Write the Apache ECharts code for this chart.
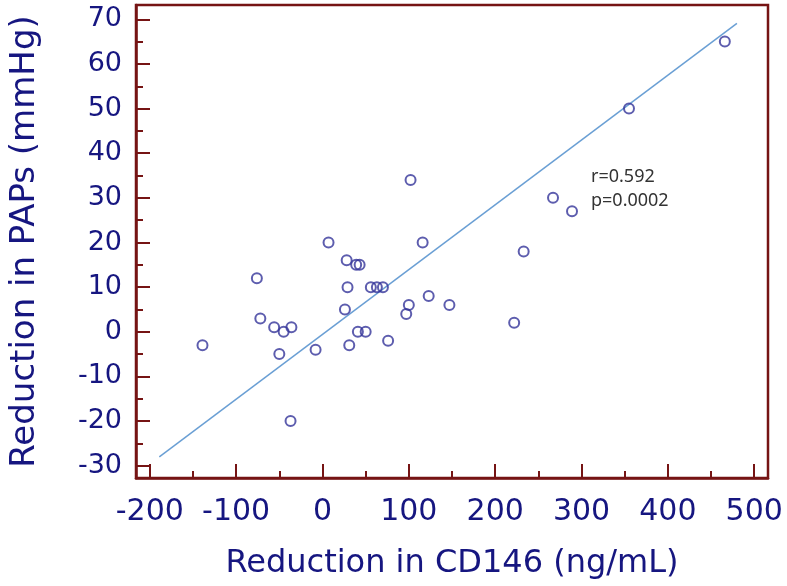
<!DOCTYPE html>
<html>
<head>
<meta charset="utf-8">
<script src="https://cdn.jsdelivr.net/npm/echarts@6/dist/echarts.min.js"></script>
<style>html,body{margin:0;padding:0;background:#fff}#c{width:787px;height:586px}</style>
</head>
<body>
<div id="c"></div>
<script>
// Data
var cd146Reduction = [7, -76, -72, -56, -45, -36, -139, -50, -8, -37, 102, 116, 28, 39, 43, 29, 56, 63, 70, 26, 100, 97, 123, 147, 41, 50, 31, 76, 267, 289, 233, 222, 355, 466];
var papsReduction  = [20, 12, 3, 1, 0, 1, -3, -5, -4, -20, 34, 20, 16, 15, 15, 10, 10, 10, 10, 5, 6, 4, 8, 6, 0, 0, -3, -2, 30, 27, 18, 2, 50, 65];
var fitLineX = [-189, 480];
var fitLineY = [-28.0, 69.1];
var xTicks = [-200, -100, 0, 100, 200, 300, 400, 500];
var xMinorTicks = [-150, -50, 50, 150, 250, 350, 450];
var yTicks = [-30, -20, -10, 0, 10, 20, 30, 40, 50, 60, 70];
var yMinorTicks = [-25, -15, -5, 5, 15, 25, 35, 45, 55, 65];
var statLines = ['r=0.592', 'p=0.0002'];

var frameColor = '#761414';
var labelColor = '#161680';
var font = 'DejaVu Sans';

var scatterData = cd146Reduction.map(function (x, i) { return [x, papsReduction[i]]; });
var lineData = fitLineX.map(function (x, i) { return [x, fitLineY[i]]; });

function majorAxis(min, max, ticks, extra) {
  var a = {
    type: 'value', min: min, max: max, gridIndex: 0,
    axisLine: { show: true, onZero: false, lineStyle: { color: frameColor, width: 2.5 } },
    axisTick: { show: true, inside: true, length: 14, customValues: ticks, lineStyle: { color: frameColor, width: 2 } },
    axisLabel: { show: true, customValues: ticks, color: labelColor, fontFamily: font },
    splitLine: { show: false }
  };
  for (var k in extra) a[k] = extra[k];
  return a;
}
function minorAxis(min, max, ticks, pos) {
  return {
    type: 'value', min: min, max: max, gridIndex: 0, position: pos,
    axisLine: { show: false, onZero: false },
    axisTick: { show: true, inside: true, length: 7, customValues: ticks, lineStyle: { color: frameColor, width: 2 } },
    axisLabel: { show: false },
    splitLine: { show: false }
  };
}

var xMain = majorAxis(-216, 516, xTicks, {
  position: 'bottom',
  name: 'Reduction in CD146 (ng/mL)', nameLocation: 'middle', nameGap: 70,
  nameTextStyle: { color: labelColor, fontFamily: font, fontSize: 32 }
});
xMain.axisLabel.fontSize = 30;
xMain.axisLabel.margin = 19;

var yMain = majorAxis(-32.75, 73.2, yTicks, {
  position: 'left',
  name: 'Reduction in PAPs (mmHg)', nameLocation: 'middle', nameGap: 94,
  nameTextStyle: { color: labelColor, fontFamily: font, fontSize: 34 }
});
yMain.axisLabel.fontSize = 27;
yMain.axisLabel.margin = 14;

var option = {
  animation: false,
  backgroundColor: '#fff',
  grid: { left: 129, right: 19, top: 5, bottom: 108, show: true, borderColor: frameColor, borderWidth: 2.5, containLabel: false },
  xAxis: [xMain, minorAxis(-216, 516, xMinorTicks, 'bottom')],
  yAxis: [yMain, minorAxis(-32.75, 73.2, yMinorTicks, 'left')],
  series: [
    {
      type: 'line', xAxisIndex: 0, yAxisIndex: 0, data: lineData,
      symbol: 'none', lineStyle: { color: '#6a9fd4', width: 1.5 }, silent: true, z: 2
    },
    {
      type: 'scatter', xAxisIndex: 0, yAxisIndex: 0, data: scatterData,
      symbol: 'circle', symbolSize: 10,
      itemStyle: { color: 'rgba(0,0,0,0)', borderColor: '#34349a', borderWidth: 2 }, z: 3
    }
  ],
  graphic: [
    { type: 'text', left: 591, top: 168, style: { text: statLines[0], fontFamily: 'Noto Sans', fontSize: 18, fill: '#333' } },
    { type: 'text', left: 591, top: 192, style: { text: statLines[1], fontFamily: 'Noto Sans', fontSize: 18, fill: '#333' } }
  ]
};

var chart = echarts.init(document.getElementById('c'), null, { renderer: 'canvas' });
chart.setOption(option);
</script>
</body>
</html>
